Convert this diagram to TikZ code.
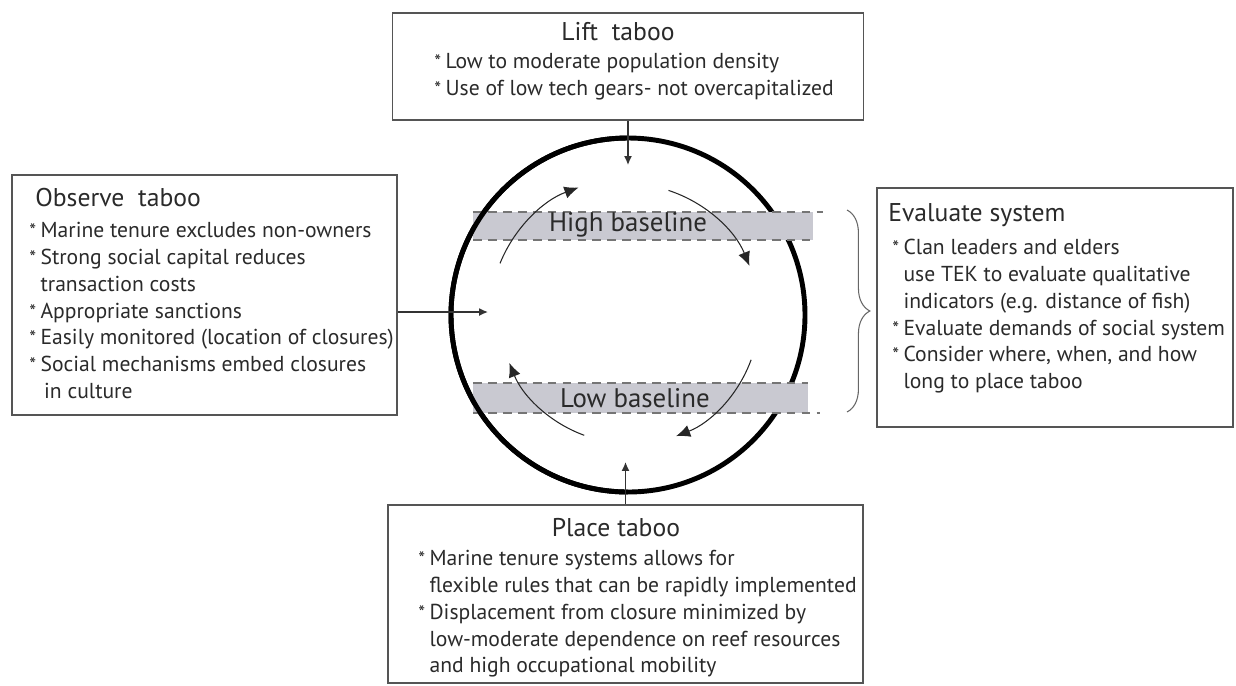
\documentclass[tikz,border=0pt]{standalone}
\usepackage{fontspec}
\setmainfont{PT Sans}
\usetikzlibrary{arrows.meta,decorations.pathreplacing}
\definecolor{txtgray}{HTML}{2A2A2A}
\definecolor{boxgray}{HTML}{555555}
\definecolor{bandgray}{HTML}{C9C9D1}
\definecolor{dashgray}{HTML}{757575}
\newcommand{\itm}{\makebox[0.52em][l]{\fontsize{11}{11}\selectfont*}}
\newcommand{\ind}{\hspace*{0.52em}}
\begin{document}
\begin{tikzpicture}[
	box/.style={draw=boxgray,line width=1pt,inner sep=0pt},
	ttl/.style={font=\fontsize{14.6}{17}\selectfont,text=txtgray,inner sep=0pt},
	lst/.style={font=\fontsize{12.3}{15.25}\selectfont,text=txtgray,align=left,inner sep=0pt,anchor=north west},
	feed/.style={-{Latex[length=5pt,width=4.5pt]},line width=.8pt,black!80},
	cyc/.style={-{Latex[length=8pt,width=7pt]},line width=.6pt,black!85},
	band/.style={fill=bandgray},
	rim/.style={dash pattern=on 5pt off 3.5pt,dashgray,line width=.9pt}]
	\useasboundingbox (-12.56,6.3) rectangle (12.16,-7.4);
	\coordinate (c) at (0,0);
	% cycle with the two baselines
	\draw[line width=2.8pt] (c) circle (3.54);
	\fill[band] (-3.1,2.06) rectangle (3.7,1.5);
	\draw[rim] (-3.1,2.06) -- (3.9,2.06);
	\draw[rim] (-3.1,1.5) -- (3.7,1.5);
	\fill[band] (-3.1,-1.36) rectangle (3.6,-1.96);
	\draw[rim] (-3.1,-1.36) -- (3.6,-1.36);
	\draw[rim] (-3.1,-1.96) -- (3.84,-1.96);
	\draw[line width=2.8pt] (90:3.54) arc[start angle=90,end angle=270,radius=3.54];
	\node[ttl,font=\fontsize{15.3}{18}\selectfont] (hi) at (0,1.8) {High baseline};
	\node[ttl,font=\fontsize{15.3}{18}\selectfont] (lo) at (0.14,-1.66) {Low baseline};
	\draw[cyc] (158:2.76) arc[start angle=158,end angle=110,radius=2.68];
	\draw[cyc] (72:2.62) arc[start angle=72,end angle=22,radius=2.62];
	\draw[cyc] (-20:2.62) arc[start angle=-20,end angle=-69,radius=2.58];
	\draw[cyc] (-110:2.56) arc[start angle=-110,end angle=-158,radius=2.56];
	% boxes
	\node[box,minimum width=9.42cm,minimum height=2.14cm] (lift) at (0,4.97) {};
	\node[ttl] (lifttitle) at (-0.2,5.66) {Lift\ \ taboo};
	\node[lst] (liftlist) at (-3.88,5.24) {\itm Low to moderate population density\\
		\itm Use of low tech gears- not overcapitalized};
	\node[box,minimum width=7.7cm,minimum height=4.8cm] (observe) at (-8.47,0.4) {};
	\node[ttl,anchor=west] (obstitle) at (-11.86,2.34) {Observe\ \ taboo};
	\node[lst] (obslist) at (-11.98,1.86) {\itm Marine tenure excludes non-owners\\
		\itm Strong social capital reduces\\
		\ind transaction costs\\
		\itm Appropriate sanctions\\
		\itm Easily monitored (location of closures)\\
		\itm Social mechanisms embed closures\\
		\ind\,in culture};
	\node[box,minimum width=7.12cm,minimum height=4.78cm] (evaluate) at (8.54,0.15) {};
	\node[ttl,anchor=west] (evaltitle) at (5.2,2.0) {Evaluate system};
	\node[lst] (evallist) at (5.28,1.52) {\itm Clan leaders and elders\\
		\ind use TEK to evaluate qualitative\\
		\ind indicators (e.g. distance of fish)\\
		\itm Evaluate demands of social system\\
		\itm Consider where, when, and how\\
		\ind long to place taboo};
	\node[box,minimum width=9.5cm,minimum height=3.56cm] (place) at (-0.05,-5.58) {};
	\node[ttl] (placetitle) at (-0.24,-4.26) {Place taboo};
	\node[lst] (placelist) at (-4.2,-4.7) {\itm Marine tenure systems allows for\\
		\ind flexible rules that can be rapidly implemented\\
		\itm Displacement from closure minimized by\\
		\ind low-moderate dependence on reef resources\\
		\ind and high occupational mobility};
	% inputs to the cycle
	\coordinate (inT) at (0,3.0);
	\coordinate (inL) at (-2.8,0.06);
	\coordinate (inB) at (-0.05,-2.94);
	\draw[feed] (lift.south) -- (inT);
	\draw[feed] (observe.east |- inL) -- (inL);
	\draw[feed] (place.north) -- (inB);
	\draw[decorate,decoration={brace,amplitude=13pt},line width=.6pt,black!60] (4.38,2.1) -- (4.38,-1.94);
\end{tikzpicture}
\end{document}
